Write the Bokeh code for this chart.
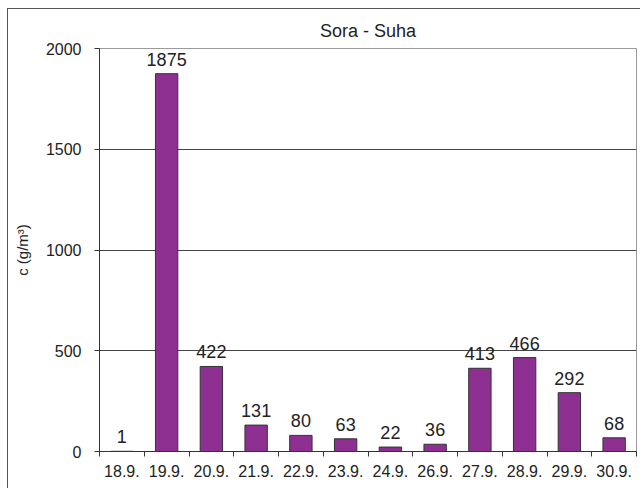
from bokeh.plotting import figure
from bokeh.models import Range1d, FixedTicker, ColumnDataSource
from bokeh.embed import file_html
from bokeh.resources import INLINE
from bokeh.core.properties import value
import numpy as np

# ---- data ----
dates = ["18.9.", "19.9.", "20.9.", "21.9.", "22.9.", "23.9.",
         "24.9.", "26.9.", "27.9.", "28.9.", "29.9.", "30.9."]
conc = [1, 1875, 422, 131, 80, 63, 22, 36, 413, 466, 292, 68]
y_ticks = [0, 500, 1000, 1500, 2000]
title_text = "Sora - Suha"
y_label = "c (g/m³)"

FONT = "Liberation Sans"
n = len(dates)
centers = list(np.arange(n) + 0.5)
bounds = list(range(n + 1))

src = ColumnDataSource(dict(
    x=centers, top=conc, lab=[str(v) for v in conc]))

p = figure(width=633, height=480, output_backend="svg", toolbar_location=None,
           x_range=Range1d(0, n), y_range=Range1d(0, 2000),
           min_border_left=91, min_border_right=5,
           min_border_top=39, min_border_bottom=38,
           title=title_text)
p.styles = {"margin-left": "7px", "margin-top": "8px",
            "border-left": "1px solid #555", "border-top": "1px solid #555"}

p.title.align = "center"
p.title.text_font = FONT
p.title.text_font_size = "18px"
p.title.text_font_style = "normal"
p.title.text_color = "#222222"
p.title.offset = -10
p.title.standoff = 16

p.outline_line_color = "#9a9a9a"
p.outline_line_width = 1
p.background_fill_color = "white"
p.border_fill_color = "white"

p.vbar(x="x", top="top", width=0.5, bottom=0, source=src,
       fill_color="#8E3091", line_color="#333333", line_width=1)

p.text(x="x", y="top", text="lab", source=src, text_align="center",
       text_baseline="bottom", y_offset=-8, text_font=value(FONT),
       text_font_size="18px", text_color="#222222")

# x axis
xa = p.xaxis[0]
xa.ticker = FixedTicker(ticks=centers, minor_ticks=bounds)
xa.major_label_overrides = {c: d for c, d in zip(centers, dates)}
xa.major_tick_line_color = None
xa.minor_tick_line_color = "#333333"
xa.minor_tick_out = 5
xa.minor_tick_in = 0
xa.axis_line_color = "#333333"
xa.major_label_text_font = FONT
xa.major_label_text_font_size = "16px"
xa.major_label_text_color = "#222222"
xa.major_label_standoff = 7

# y axis
ya = p.yaxis[0]
ya.ticker = FixedTicker(ticks=y_ticks)
ya.major_tick_out = 5
ya.major_tick_in = 0
ya.minor_tick_line_color = None
ya.axis_line_color = "#333333"
ya.major_tick_line_color = "#333333"
ya.major_label_text_font = FONT
ya.major_label_text_font_size = "16px"
ya.major_label_text_color = "#222222"
ya.major_label_standoff = 13
ya.axis_label = y_label
ya.axis_label_text_font = FONT
ya.axis_label_text_font_size = "15px"
ya.axis_label_text_font_style = "normal"
ya.axis_label_text_color = "#222222"
ya.axis_label_standoff = 12

p.xgrid.grid_line_color = None
p.ygrid.grid_line_color = "#444444"
p.ygrid.grid_line_width = 1

open("out.html", "w").write(file_html(p, INLINE))
